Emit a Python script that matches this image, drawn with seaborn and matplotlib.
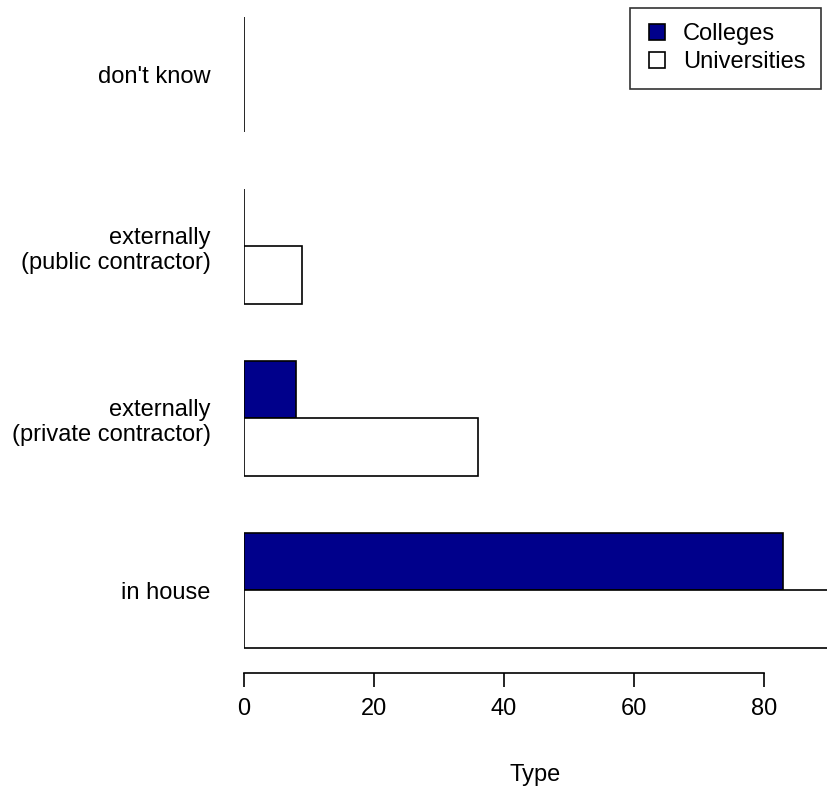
import pandas as pd
import numpy as np
import matplotlib.pyplot as plt
import seaborn as sns
from matplotlib.lines import Line2D

sns.set_style("white")
plt.rcParams["font.family"] = ["Liberation Sans", "DejaVu Sans"]
plt.rcParams["text.color"] = "black"
plt.rcParams["xtick.color"] = "black"
plt.rcParams["ytick.color"] = "black"
plt.rcParams["axes.labelcolor"] = "black"

# data
categories = ["don't know", "externally\n(public contractor)",
              "externally\n(private contractor)", "in house"]
colleges = [0, 0, 8, 83]
universities = [0, 9, 36, 90]
groups = ["Colleges", "Universities"]
colors = {"Colleges": "#00008B", "Universities": "white"}

df = pd.DataFrame({
    "category": categories * 2,
    "group": [groups[0]] * 4 + [groups[1]] * 4,
    "value": colleges + universities,
})

fig = plt.figure(figsize=(8.27, 7.89), dpi=100)
ax = fig.add_axes([244 / 827, 116 / 789, 583 / 827, 673 / 789])

sns.barplot(data=df, y="category", x="value", hue="group", order=categories,
            hue_order=groups, palette=colors, orient="h", width=2 / 3,
            saturation=1, edgecolor="black", linewidth=1.2, legend=False, ax=ax)

ax.set_xlim(0, 89.7)
ax.set_ylim(3.48, -0.433)
ax.set_xticks([0, 20, 40, 60, 80])
ax.set_ylabel("")
ax.set_xlabel("Type", fontsize=17, labelpad=32)

for s in ["top", "right", "left"]:
    ax.spines[s].set_visible(False)
ax.spines["bottom"].set_bounds(0, 80)
ax.spines["bottom"].set_color("black")
ax.spines["bottom"].set_linewidth(1.2)
ax.tick_params(axis="x", bottom=True, length=10, width=1.2, color="black",
               labelsize=17, pad=8)
ax.tick_params(axis="y", left=False, length=0, labelsize=17, pad=24)
for lab in ax.get_yticklabels():
    lab.set_multialignment("right")

handles = [Line2D([], [], marker="s", linestyle="none", markersize=12,
                  markerfacecolor=colors[g], markeredgecolor="black",
                  markeredgewidth=1.2, label=g) for g in groups]
leg = fig.legend(handles=handles, loc="upper right",
                 bbox_to_anchor=(821 / 827, 1 - 8 / 789), borderaxespad=0,
                 fontsize=17, frameon=True, fancybox=False, handlelength=1.0,
                 handletextpad=0.6, labelspacing=0.25, borderpad=0.65)
leg.get_frame().set_edgecolor("black")
leg.get_frame().set_linewidth(1.2)

fig.savefig("out.png", dpi=100)
